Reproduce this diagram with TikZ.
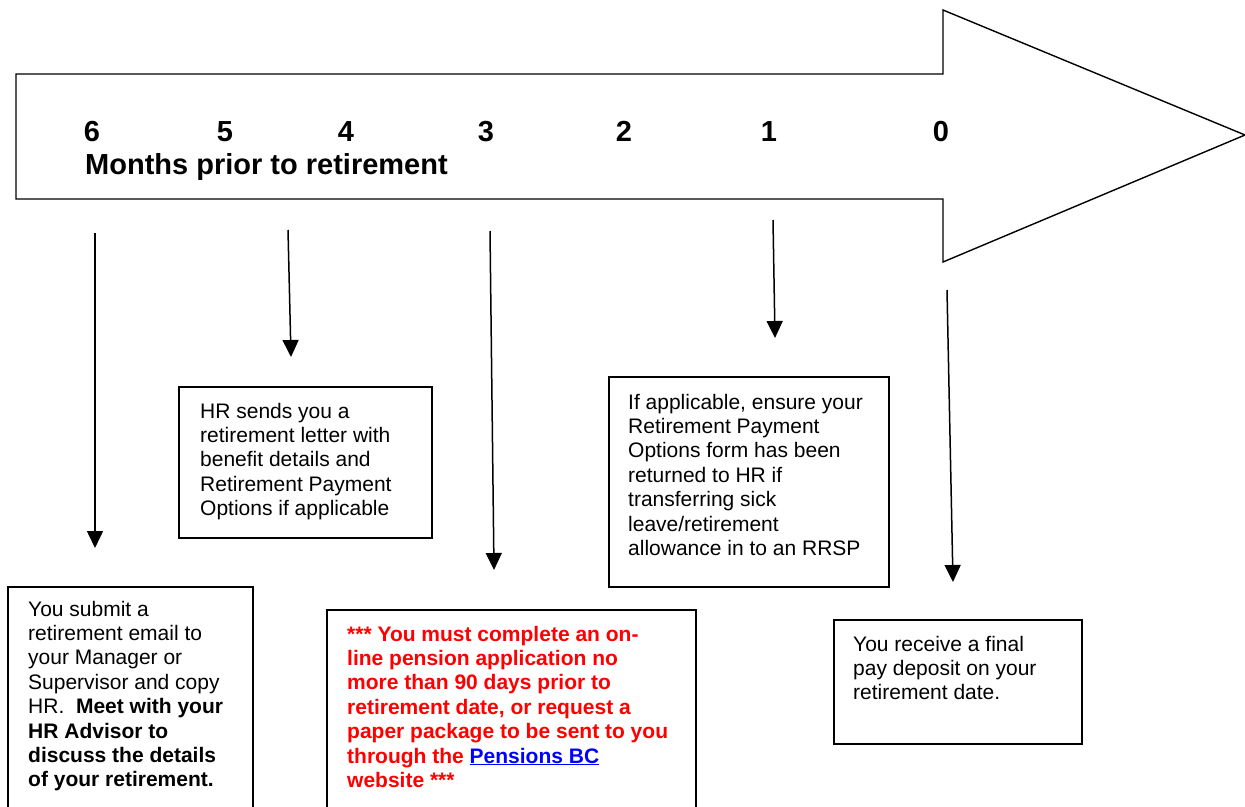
\documentclass[tikz,border=0pt]{standalone}
\usepackage{fontspec}
\setmainfont{Liberation Sans}
\usetikzlibrary{arrows.meta}
\definecolor{redtxt}{RGB}{255,0,0}
\definecolor{linkblue}{RGB}{0,0,255}
\begin{document}
\begin{tikzpicture}[x=1pt,y=-1pt,
  frame/.style={draw=black,line width=1.3pt},
  txt/.style={anchor=base west,inner sep=0pt,align=left,font=\fontsize{21}{24.4}\selectfont},
  num/.style={anchor=base,inner sep=0pt,font=\fontsize{29}{33}\selectfont\bfseries},
  conn/.style={line width=1.5pt,-{Triangle[width=16pt,length=17pt]}}]
\useasboundingbox (0,0) rectangle (1245,806);
% big arrow
\draw[line width=1.4pt,line join=miter] (16,74) -- (943,74) -- (943,10) -- (1245,135) -- (943,262) -- (943,199) -- (16,199) -- cycle;
\node[num] (n6) at (92,141) {6};
\node[num] (n5) at (225,141) {5};
\node[num] (n4) at (346,141) {4};
\node[num] (n3) at (486,141) {3};
\node[num] (n2) at (624,141) {2};
\node[num] (n1) at (769,141) {1};
\node[num] (n0) at (941,141) {0};
\node[num,anchor=base west] (mon) at (85,174) {Months prior to retirement};
% boxes
\draw[frame] (179,387) rectangle (432,538);
\draw[frame] (609,377) rectangle (889,587);
\draw[frame] (8,587) rectangle (253,812);
\draw[frame] (327,610) rectangle (696,812);
\draw[frame] (834,620) rectangle (1082,744);
% text nodes: anchor at the baseline of the last line
\node[txt] (hr) at (200,515.6) {HR sends you a\\retirement letter with\\benefit details and\\Retirement Payment\\Options if applicable};
\node[txt] (ifa) at (628,555.4) {If applicable, ensure your\\Retirement Payment\\Options form has been\\returned to HR if\\transferring sick\\leave/retirement\\allowance in to an RRSP};
\node[txt] (sub) at (28,786.8) {You submit a\\retirement email to\\your Manager or\\Supervisor and copy\\HR.\ \ \textbf{Meet with your}\\\textbf{HR Advisor to}\\\textbf{discuss the details}\\\textbf{of your retirement.}};
\node[txt,text=redtxt,font=\fontsize{21}{24.4}\selectfont\bfseries] (red) at (347,787.4) {*** You must complete an on-\\line pension application no\\more than 90 days prior to\\retirement date, or request a\\paper package to be sent to you\\through the \textcolor{linkblue}{\underline{Pensions BC}}\\website ***};
\node[txt] (fin) at (853,699.8) {You receive a final\\pay deposit on your\\retirement date.};
% connectors
\coordinate (a6s) at (95,233); \coordinate (a6e) at (95,548);
\coordinate (a4s) at (288,230); \coordinate (a4e) at (291,357);
\coordinate (a3s) at (490,231); \coordinate (a3e) at (494,570);
\coordinate (a1s) at (773,220); \coordinate (a1e) at (775,338);
\coordinate (a0s) at (947,290); \coordinate (a0e) at (953,582);
\draw[conn] (a6s) -- (a6e);
\draw[conn] (a4s) -- (a4e);
\draw[conn] (a3s) -- (a3e);
\draw[conn] (a1s) -- (a1e);
\draw[conn] (a0s) -- (a0e);
\end{tikzpicture}
\end{document}
